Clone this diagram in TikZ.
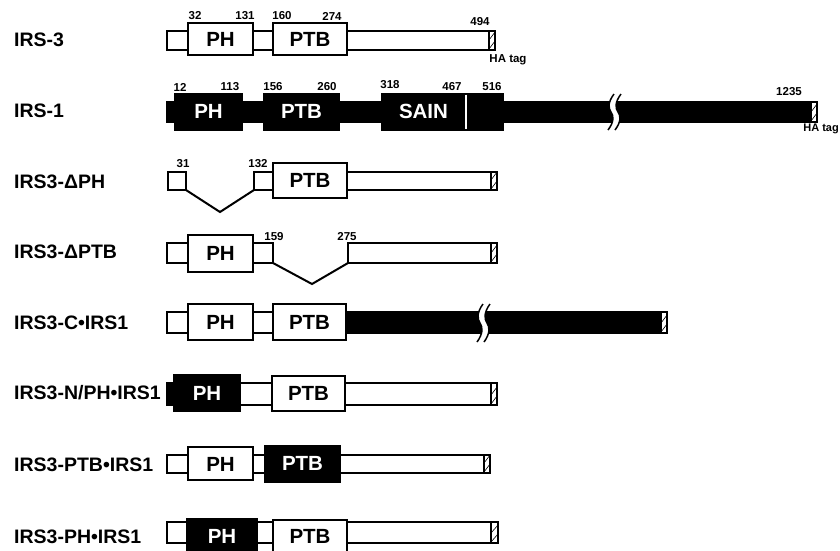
\documentclass[tikz,border=0pt]{standalone}
\usepackage{fontspec}
\setmainfont{Liberation Sans}
\newcommand\hatchcell[4]{%
  \fill[white] (#1,#2) rectangle (#3,#4);
  \begin{scope}
    \clip (#1,#2) rectangle (#3,#4);
    \draw[line width=0.6pt] (#1,{#4-1}) -- (#3,{#4-9});
    \draw[line width=0.6pt] (#1,{#4-10}) -- (#3,{#4-18});
  \end{scope}
  \draw[line width=1.2pt] (#1,#2) rectangle (#3,#4);}
\newcommand\brkmark[3]{% x0, mid, half height
  \fill[white] ({#1+3},{#2-#3}) .. controls ({#1-3},{#2-#3+8}) and ({#1-3},{#2-4}) .. (#1,#2)
     .. controls ({#1+3},{#2+4}) and ({#1+3},{#2+#3-8}) .. ({#1-3},{#2+#3})
     -- ({#1+4},{#2+#3}) .. controls ({#1+10},{#2+#3-8}) and ({#1+10},{#2+4}) .. ({#1+7},#2)
     .. controls ({#1+4},{#2-4}) and ({#1+4},{#2-#3+8}) .. ({#1+10},{#2-#3}) -- cycle;
  \draw[line width=1.5pt] ({#1+3},{#2-#3}) .. controls ({#1-3},{#2-#3+8}) and ({#1-3},{#2-4}) .. (#1,#2)
     .. controls ({#1+3},{#2+4}) and ({#1+3},{#2+#3-8}) .. ({#1-3},{#2+#3});
  \draw[line width=1.5pt] ({#1+10},{#2-#3}) .. controls ({#1+4},{#2-#3+8}) and ({#1+4},{#2-4}) .. ({#1+7},#2)
     .. controls ({#1+10},{#2+4}) and ({#1+10},{#2+#3-8}) .. ({#1+4},{#2+#3});}
\begin{document}
\begin{tikzpicture}[x=1pt,y=-1pt,
  lbl/.style={font=\fontsize{19.5}{21}\selectfont\bfseries, anchor=west, inner sep=0pt},
  num/.style={font=\fontsize{11.5}{12}\selectfont\bfseries, inner sep=0pt},
  dom/.style={font=\fontsize{20.5}{22}\selectfont\bfseries, inner sep=0pt},
  domw/.style={dom, text=white},
  wb/.style={draw=black, fill=white, line width=1.2pt},
  bb/.style={draw=black, fill=black, line width=1.2pt},
  del/.style={line width=2pt}]
\useasboundingbox (0,0) rectangle (840,550);
\fill[white] (0,0) rectangle (840,550);

% ---------- labels ----------
\node[lbl] (l1) at (14,40) {IRS-3};
\node[lbl] (l2) at (14,111) {IRS-1};
\node[lbl] (l3) at (14,182) {IRS3-ΔPH};
\node[lbl] (l4) at (14,252) {IRS3-ΔPTB};
\node[lbl] (l5) at (14,323) {IRS3-C•IRS1};
\node[lbl] (l6) at (14,393) {IRS3-N/PH•IRS1};
\node[lbl] (l7) at (14,465) {IRS3-PTB•IRS1};
\node[lbl] (l8) at (14,537) {IRS3-PH•IRS1};

% ---------- Row 1: IRS-3 ----------
\draw[wb] (167,31) rectangle (495,50);
\draw[wb] (188,23) rectangle (253,55);
\draw[wb] (273,23) rectangle (347,55);
\hatchcell{489}{31}{495}{50}
\node[dom] (r1ph) at (220.5,39.5) {PH};
\node[dom] (r1ptb) at (310,39.5) {PTB};
\node[num] (n32) at (195,16) {32};
\node[num] (n131) at (245,16) {131};
\node[num] (n160) at (282,16) {160};
\node[num] (n274) at (332,16) {274};
\node[num] (n494) at (480,22) {494};
\node[num] (ha1) at (508,60) {HA tag};

% ---------- Row 2: IRS-1 ----------
\draw[bb] (167,102) rectangle (817,122);
\draw[bb] (175,94) rectangle (242,130);
\draw[bb] (264,94) rectangle (339,130);
\draw[bb] (382,94) rectangle (503,130);
\draw[white, line width=1.4pt] (466,94.6) -- (466,129.4);
\hatchcell{811}{102}{817}{122}
\brkmark{611}{112}{18}
\node[domw] (r2ph) at (208.5,111.5) {PH};
\node[domw] (r2ptb) at (301.5,111.5) {PTB};
\node[domw] (r2sain) at (423.5,111.5) {SAIN};
\node[num] (n12) at (180,87) {12};
\node[num] (n113) at (230,87) {113};
\node[num] (n156) at (273,87) {156};
\node[num] (n260) at (327,87) {260};
\node[num] (n318) at (390,85) {318};
\node[num] (n467) at (452,87) {467};
\node[num] (n516) at (492,87) {516};
\node[num] (n1235) at (789,92) {1235};
\node[num, font=\fontsize{11}{12}\selectfont\bfseries, anchor=east] (ha2) at (839,129) {HA tag};

% ---------- Row 3: IRS3-dPH ----------
\draw[wb] (168,172) rectangle (186,190);
\draw[wb] (254,172) rectangle (273,190);
\draw[wb] (347,172) rectangle (497,190);
\draw[wb] (273,163) rectangle (347,198);
\hatchcell{491}{172}{497}{190}
\coordinate (v3) at (220,212);
\draw[del] (186,190) -- (v3) -- (254,190);
\node[dom] (r3ptb) at (310,180.5) {PTB};
\node[num] (n31) at (183,164) {31};
\node[num] (n132) at (258,164) {132};

% ---------- Row 4: IRS3-dPTB ----------
\draw[wb] (167,243) rectangle (188,263);
\draw[wb] (253,243) rectangle (273,263);
\draw[wb] (188,235) rectangle (253,272);
\draw[wb] (348,243) rectangle (497,263);
\hatchcell{491}{243}{497}{263}
\coordinate (v4) at (312,284);
\draw[del] (273,263) -- (v4) -- (348,263);
\node[dom] (r4ph) at (220.5,253.5) {PH};
\node[num] (n159) at (274,237) {159};
\node[num] (n275) at (347,237) {275};

% ---------- Row 5: IRS3-C-IRS1 ----------
\draw[wb] (167,312) rectangle (273,333);
\draw[bb] (346,312) rectangle (667,333);
\draw[wb] (188,304) rectangle (253,340);
\draw[wb] (273,304) rectangle (346,340);
\hatchcell{661}{312}{667}{333}
\brkmark{480}{323}{19}
\node[dom] (r5ph) at (220.5,322) {PH};
\node[dom] (r5ptb) at (309.5,322) {PTB};

% ---------- Row 6: IRS3-N/PH-IRS1 ----------
\draw[bb] (167,383) rectangle (176,405);
\draw[wb] (240,383) rectangle (497,405);
\draw[bb] (174,375) rectangle (240,411);
\draw[wb] (272,376) rectangle (345,411);
\hatchcell{491}{383}{497}{405}
\node[domw] (r6ph) at (207,393) {PH};
\node[dom] (r6ptb) at (308.5,393.5) {PTB};

% ---------- Row 7: IRS3-PTB-IRS1 ----------
\draw[wb] (167,455) rectangle (490,473);
\draw[wb] (188,447) rectangle (253,480);
\draw[bb] (265,446) rectangle (340,482);
\hatchcell{484}{455}{490}{473}
\node[dom] (r7ph) at (220.5,464) {PH};
\node[domw] (r7ptb) at (302.5,463.5) {PTB};

% ---------- Row 8: IRS3-PH-IRS1 ----------
\draw[wb] (167,522) rectangle (498,543);
\draw[bb] (187,519) rectangle (257,553);
\draw[wb] (273,520) rectangle (347,553);
\hatchcell{491}{522}{498}{543}
\node[domw] (r8ph) at (222,536) {PH};
\node[dom] (r8ptb) at (310,536) {PTB};
\end{tikzpicture}
\end{document}
